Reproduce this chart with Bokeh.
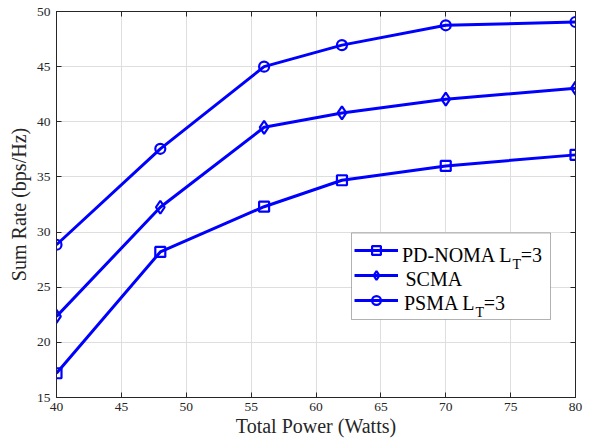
from bokeh.plotting import figure
from bokeh.models import (Legend, LegendItem, LinearAxis, FixedTicker, Range1d, Label,
                          BoxAnnotation)
from bokeh.embed import file_html
from bokeh.resources import INLINE

# ---- data ----
power = [40, 48, 56, 62, 70, 80]
pd_noma = [17.2, 28.2, 32.3, 34.7, 36.0, 37.0]
scma = [22.35, 32.25, 39.5, 40.8, 42.05, 43.05]
psma = [28.85, 37.55, 45.0, 46.95, 48.75, 49.05]

x_ticks = [40, 45, 50, 55, 60, 65, 70, 75, 80]
y_ticks = [15, 20, 25, 30, 35, 40, 45, 50]

legend_main = ["PD-NOMA L", "SCMA", "PSMA L"]
legend_sub = ["T", "", "T"]
legend_tail = ["=3", "", "=3"]
markers = ["square", "diamond", "circle"]
marker_sizes = [10, 13, 10]

x_label = "Total Power (Watts)"
y_label = "Sum Rate (bps/Hz)"

FONT = "Liberation Serif"
BLUE = "#0000ff"
AX = "#262626"

# Times / Liberation Serif advance widths (em) used to place the legend text pieces
TW = {"P": .556, "D": .722, "-": .333, "N": .722, "O": .722, "M": .889, "A": .722,
      " ": .25, "L": .611, "S": .556, "C": .667, "T": .611, "=": .564, "3": .5}


def tw(s, size):
    return sum(TW.get(c, .5) for c in s) * size * 0.95


p = figure(width=602, height=442, output_backend="svg", toolbar_location=None,
           x_range=Range1d(40, 80), y_range=Range1d(15, 50),
           min_border_left=56, min_border_right=27, min_border_top=11, min_border_bottom=45,
           x_axis_label=x_label, y_axis_label=y_label)

p.background_fill_color = "white"
p.border_fill_color = "white"
p.outline_line_color = AX
p.outline_line_width = 1

for ax in (p.xaxis[0], p.yaxis[0]):
    ax.major_tick_in = 5
    ax.major_tick_out = 0
    ax.minor_tick_line_color = None
    ax.axis_line_color = AX
    ax.major_tick_line_color = AX
    ax.major_label_text_font = FONT
    ax.major_label_text_font_size = "13.5px"
    ax.major_label_text_color = AX
    ax.axis_label_text_font = FONT
    ax.axis_label_text_font_size = "20px"
    ax.axis_label_text_font_style = "normal"
    ax.axis_label_text_color = AX

p.xaxis[0].ticker = FixedTicker(ticks=x_ticks)
p.yaxis[0].ticker = FixedTicker(ticks=y_ticks)
p.xaxis[0].major_label_standoff = 5
p.xaxis[0].axis_label_standoff = 1
p.yaxis[0].major_label_standoff = 6
p.yaxis[0].axis_label_standoff = 4

p.xgrid.ticker = FixedTicker(ticks=x_ticks)
p.ygrid.ticker = FixedTicker(ticks=y_ticks)
p.grid.grid_line_color = "#dedede"
p.grid.grid_line_width = 1

# box ticks on top/right
for loc, ticks in (("above", x_ticks), ("right", y_ticks)):
    ax = LinearAxis(ticker=FixedTicker(ticks=ticks), major_tick_in=5, major_tick_out=0,
                    minor_tick_line_color=None, axis_line_color=AX, major_tick_line_color=AX,
                    major_label_text_font_size="1px", major_label_text_alpha=0,
                    major_label_standoff=0)
    p.add_layout(ax, loc)

items = []
for vals, mk, ms, name in zip([pd_noma, scma, psma], markers, marker_sizes, legend_main):
    r1 = p.line(power, vals, line_color=BLUE, line_width=3)
    r2 = p.scatter(power, vals, marker=mk, size=ms, line_color=BLUE, line_width=2.2,
                   fill_color=None)
    items.append(LegendItem(label=name, renderers=[r1, r2]))

# legend frame (screen units relative to the plot frame)
box = BoxAnnotation(left=295, right=494, top=164.5, bottom=78,
                    left_units="screen", right_units="screen",
                    top_units="screen", bottom_units="screen",
                    fill_color="white", fill_alpha=1, line_color="black", line_width=1,
                    level="annotation")
p.add_layout(box)

LEG_FS = 20
PAD, GW, STAND = 4, 44, 3
ROW_H, ROW_SP = 22, 2
LEG_X, LEG_Y = 298, 86
legend = Legend(items=items, location=(LEG_X, LEG_Y),
                label_text_font=FONT, label_text_font_size=f"{LEG_FS}px",
                label_text_color="black", label_text_alpha=0,
                glyph_width=GW, glyph_height=ROW_H, label_height=ROW_H, label_width=120,
                label_standoff=STAND, padding=PAD, spacing=ROW_SP, margin=0,
                border_line_color=None, background_fill_alpha=0, level="overlay")
p.add_layout(legend, "center")

# legend texts drawn as labels so that the subscript pieces join up exactly
text_x0 = LEG_X + PAD + GW + STAND
leg_top = LEG_Y + 2 * PAD + 3 * ROW_H + 2 * ROW_SP
SUB_FS = 14
for i, (main, sub, tail) in enumerate(zip(legend_main, legend_sub, legend_tail)):
    row_mid = leg_top - PAD - ROW_H / 2 - i * (ROW_H + ROW_SP)
    base = row_mid - 0.33 * LEG_FS
    common = dict(x_units="screen", y_units="screen", text_font=FONT,
                  text_color="black", text_baseline="alphabetic", level="overlay")
    if sub:
        x_sub = text_x0 + 2 + tw(main, LEG_FS)
        p.add_layout(Label(x=x_sub, y=base, text=main, text_align="right",
                           text_font_size=f"{LEG_FS}px", **common))
        p.add_layout(Label(x=x_sub, y=base - 9, text=sub, text_align="left",
                           text_font_size=f"{SUB_FS}px", **common))
        p.add_layout(Label(x=x_sub + tw(sub, SUB_FS), y=base, text=tail, text_align="left",
                           text_font_size=f"{LEG_FS}px", **common))
    else:
        p.add_layout(Label(x=text_x0, y=base, text=main, text_align="left",
                           text_font_size=f"{LEG_FS}px", **common))

open("out.html", "w").write(file_html(p, INLINE))
